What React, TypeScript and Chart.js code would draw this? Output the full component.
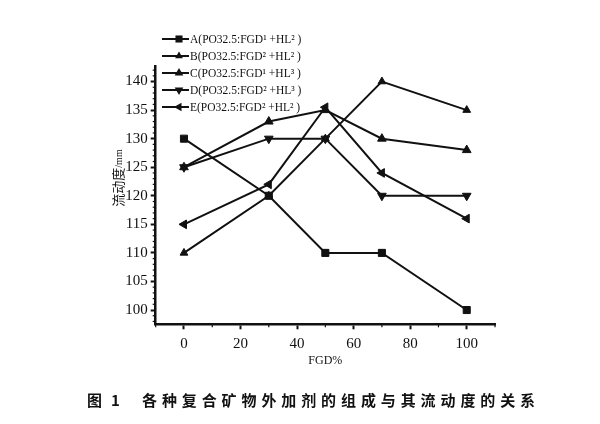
import React, { useEffect, useRef } from "react";
import { Chart, registerables } from "chart.js";
Chart.register(...registerables);

const fgdPercent = [0, 30, 50, 70, 100];
const seriesA = [130, 120, 110, 110, 100];
const seriesB = [110, 120, 130, 140, 135];
const seriesC = [125, 133, 135, 130, 128];
const seriesD = [125, 130, 130, 120, 120];
const seriesE = [115, 122, 135.5, 124, 116];
const seriesNames = [
  "A(PO32.5:FGD¹ +HL² )",
  "B(PO32.5:FGD² +HL² )",
  "C(PO32.5:FGD¹ +HL³ )",
  "D(PO32.5:FGD² +HL³ )",
  "E(PO32.5:FGD² +HL² )",
];
const xTickValues = [0, 20, 40, 60, 80, 100];
const yTickValues = [100, 105, 110, 115, 120, 125, 130, 135, 140];
const xTitle = "FGD%";
const yTitleMain = "流动度";
const yTitleUnit = "/mm";
const captionFig = "图";
const captionNum = "1";
const captionText = "各种复合矿物外加剂的组成与其流动度的关系";

const INK = "#111";
const markerStyles = [
  { style: "rect", rot: 0, r: 5 },
  { style: "triangle", rot: 0, r: 4.5 },
  { style: "triangle", rot: 0, r: 5 },
  { style: "triangle", rot: 180, r: 5 },
  { style: "triangle", rot: 270, r: 5 },
];

function drawMarker(ctx: CanvasRenderingContext2D, style: string, x: number, y: number, r: number, rot: number) {
  ctx.save();
  ctx.translate(x, y);
  ctx.rotate((rot * Math.PI) / 180);
  ctx.beginPath();
  if (style === "rect") {
    const s = Math.SQRT1_2 * r;
    ctx.rect(-s, -s, 2 * s, 2 * s);
  } else {
    const h = r * 1.5;
    ctx.moveTo(0, -r);
    ctx.lineTo(-h / Math.sqrt(3), r / 2);
    ctx.lineTo(h / Math.sqrt(3), r / 2);
    ctx.closePath();
  }
  ctx.fill();
  ctx.restore();
}

export default function App() {
  const ref = useRef<HTMLCanvasElement | null>(null);

  useEffect(() => {
    if (!ref.current) return;
    const all = [seriesA, seriesB, seriesC, seriesD, seriesE];
    const datasets = all.map((vals, i) => ({
      label: seriesNames[i],
      data: vals.map((v, j) => ({ x: fgdPercent[j], y: v })),
      borderColor: INK,
      backgroundColor: INK,
      borderWidth: 2,
      pointStyle: markerStyles[i].style as any,
      pointRotation: markerStyles[i].rot,
      pointRadius: markerStyles[i].r,
      pointBorderWidth: 1,
      tension: 0,
    }));

    const extras = {
      id: "extras",
      afterDraw(chart: any) {
        const ctx = chart.ctx;
        const xs = chart.scales.x;
        const ys = chart.scales.y;
        const area = chart.chartArea;
        ctx.save();
        ctx.strokeStyle = INK;
        ctx.lineWidth = 1.2;
        for (let v = 98; v <= 142; v++) {
          if (v % 5 === 0) continue;
          const py = ys.getPixelForValue(v);
          ctx.beginPath();
          ctx.moveTo(area.left - 3, py);
          ctx.lineTo(area.left, py);
          ctx.stroke();
        }
        for (let v = -10; v <= 110; v += 10) {
          if (v % 20 === 0) continue;
          const px = xs.getPixelForValue(v);
          ctx.beginPath();
          ctx.moveTo(px, area.bottom);
          ctx.lineTo(px, area.bottom + 3);
          ctx.stroke();
        }
        ctx.fillStyle = INK;
        ctx.textBaseline = "middle";
        ctx.textAlign = "center";
        ctx.font = '12px "Liberation Serif"';
        ctx.fillText(xTitle, (area.left + area.right) / 2, 361);
        ctx.save();
        ctx.translate(118, 178);
        ctx.rotate(-Math.PI / 2);
        ctx.font = '13px "Noto Sans CJK SC"';
        const w1 = ctx.measureText(yTitleMain).width;
        ctx.font = '10px "Liberation Serif"';
        const w2 = ctx.measureText(yTitleUnit).width;
        const start = -(w1 + w2) / 2;
        ctx.textAlign = "left";
        ctx.font = '13px "Noto Sans CJK SC"';
        ctx.fillText(yTitleMain, start, 0);
        ctx.font = '10px "Liberation Serif"';
        ctx.fillText(yTitleUnit, start + w1, 1);
        ctx.restore();
        const rowTop = 39;
        const rowGap = 17;
        seriesNames.forEach((name, i) => {
          const y = rowTop + i * rowGap;
          ctx.beginPath();
          ctx.lineWidth = 2;
          ctx.moveTo(162, y);
          ctx.lineTo(189, y);
          ctx.stroke();
          ctx.fillStyle = INK;
          drawMarker(ctx, markerStyles[i].style, 179, y, markerStyles[i].r, markerStyles[i].rot);
          ctx.textAlign = "left";
          ctx.font = '11.5px "Liberation Serif"';
          ctx.fillText(name, 190, y + 0.5);
        });
        ctx.restore();
      },
    };

    const chart = new Chart(ref.current, {
      type: "line",
      data: { datasets: datasets as any },
      plugins: [extras],
      options: {
        animation: false,
        responsive: false,
        devicePixelRatio: 1,
        layout: { padding: { top: 66.7, right: 105, left: 0, bottom: 0 } },
        plugins: { legend: { display: false }, tooltip: { enabled: false } },
        scales: {
          x: {
            type: "linear",
            min: -10,
            max: 110,
            afterBuildTicks: (s: any) => {
              s.ticks = xTickValues.map((v) => ({ value: v }));
            },
            afterFit: (s: any) => {
              s.height = 424 - 324.3;
            },
            grid: {
              drawOnChartArea: false,
              drawTicks: true,
              tickLength: 5,
              tickColor: INK,
              tickWidth: 2,
            },
            border: { display: true, color: INK, width: 2.5 },
            ticks: {
              color: INK,
              padding: 6,
              maxRotation: 0,
              font: { family: "Liberation Serif", size: 15 },
            },
          },
          y: {
            type: "linear",
            min: 97.5,
            max: 142.6,
            afterBuildTicks: (s: any) => {
              s.ticks = yTickValues.map((v) => ({ value: v }));
            },
            afterFit: (s: any) => {
              s.width = 155.7;
            },
            grid: {
              drawOnChartArea: false,
              drawTicks: true,
              tickLength: 5,
              tickColor: INK,
              tickWidth: 2,
            },
            border: { display: true, color: INK, width: 2.5 },
            ticks: {
              color: INK,
              padding: 3,
              font: { family: "Liberation Serif", size: 15 },
            },
          },
        },
      },
    });
    return () => chart.destroy();
  }, []);

  const captionFont = 'bold 15px "Noto Sans CJK SC"';
  return (
    <div
      style={{
        position: "fixed",
        left: 0,
        top: 0,
        width: 600,
        height: 424,
        background: "#fff",
        overflow: "hidden",
      }}
    >
      <canvas ref={ref} width={600} height={424} style={{ display: "block" }} />
      <span style={{ position: "absolute", left: 87, top: 391, font: captionFont, color: INK, lineHeight: "18px" }}>
        {captionFig}
      </span>
      <span style={{ position: "absolute", left: 111, top: 391, font: captionFont, color: INK, lineHeight: "18px" }}>
        {captionNum}
      </span>
      <span
        style={{
          position: "absolute",
          left: 142,
          top: 391,
          font: captionFont,
          color: INK,
          lineHeight: "18px",
          letterSpacing: "4.9px",
          whiteSpace: "pre",
        }}
      >
        {captionText}
      </span>
    </div>
  );
}
